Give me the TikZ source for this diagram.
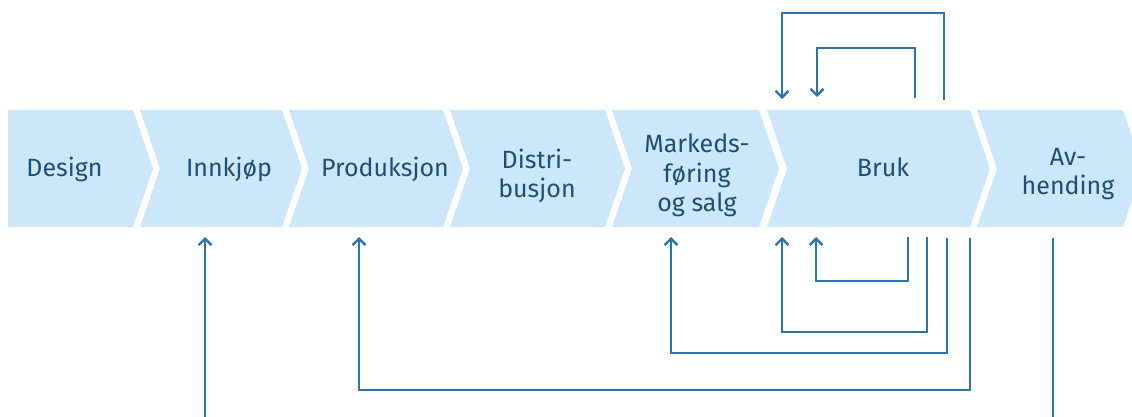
\documentclass[tikz,border=0pt]{standalone}
\usepackage{fontspec}
\setmainfont{Fira Sans}
\usetikzlibrary{arrows.meta}
\definecolor{chevfill}{HTML}{CBE7F9}
\definecolor{arrowblue}{HTML}{2B74B0}
\definecolor{labelblue}{HTML}{1F4F75}
\newcommand\chevshape[2]{\fill[chevfill] (#1,110) -- (#2,110) -- ({#2+20},168.5) -- (#2,227) -- (#1,227) -- ({#1+20},168.5) -- cycle;}
\begin{document}
\begin{tikzpicture}[x=1pt,y=-1pt,
  lbl/.style={text=labelblue,font=\fontsize{25}{29.5}\selectfont,align=center,anchor=base,inner sep=0pt},
  flow/.style={draw=arrowblue,line width=2.4pt,-{Straight Barb[length=6.5pt,width=13pt,line width=2.4pt]}},
  plainline/.style={draw=arrowblue,line width=2.4pt}]
\useasboundingbox (0,0) rectangle (1132,417);
\clip (0,0) rectangle (1132,417);
% chevrons
\fill[chevfill] (8,110) -- (133,110) -- (153,168.5) -- (133,227) -- (8,227) -- cycle;
\chevshape{140}{282}
\chevshape{289}{443}
\chevshape{450}{605}
\chevshape{612}{759}
\chevshape{767}{970}
\chevshape{977}{1123}
% labels (anchor base = baseline of the last line)
\node[lbl] (design) at (64.5,176) {Design};
\node[lbl] (innkjop) at (229,176) {Innkjøp};
\node[lbl] (produksjon) at (385,176) {Produksjon};
\node[lbl] (distribusjon) at (537,197.5) {Distri-\\busjon};
\node[lbl] (markedsforing) at (697,211.5) {Markeds-\\føring\\og salg};
\node[lbl] (bruk) at (883,176) {Bruk};
\node[lbl] (avhending) at (1068,194.5) {Av-\\hending};
% connector end points
\coordinate (topOuterS) at (944,100);
\coordinate (topOuterE) at (782,99);
\coordinate (topInnerS) at (915,98);
\coordinate (topInnerE) at (817,97);
\coordinate (b1S) at (908,237);
\coordinate (b1E) at (816,237);
\coordinate (b2S) at (927,237);
\coordinate (b2E) at (782,237);
\coordinate (b3S) at (947,238);
\coordinate (b3E) at (671,237);
\coordinate (b4S) at (970,238);
\coordinate (b4E) at (359,237);
\coordinate (innS) at (205,417);
\coordinate (innE) at (205,237);
\coordinate (avS) at (1053,238);
\coordinate (avE) at (1053,417);
% top loops
\draw[flow] (topOuterS) -- (topOuterS |- 0,13) -- (topOuterE |- 0,13) -- (topOuterE);
\draw[flow] (topInnerS) -- (topInnerS |- 0,48) -- (topInnerE |- 0,48) -- (topInnerE);
% bottom loops
\draw[flow] (b1S) -- (b1S |- 0,281) -- (b1E |- 0,281) -- (b1E);
\draw[flow] (b2S) -- (b2S |- 0,332) -- (b2E |- 0,332) -- (b2E);
\draw[flow] (b3S) -- (b3S |- 0,353) -- (b3E |- 0,353) -- (b3E);
\draw[flow] (b4S) -- (b4S |- 0,390) -- (b4E |- 0,390) -- (b4E);
\draw[flow] (innS) -- (innE);
\draw[plainline] (avS) -- (avE);
\end{tikzpicture}
\end{document}
